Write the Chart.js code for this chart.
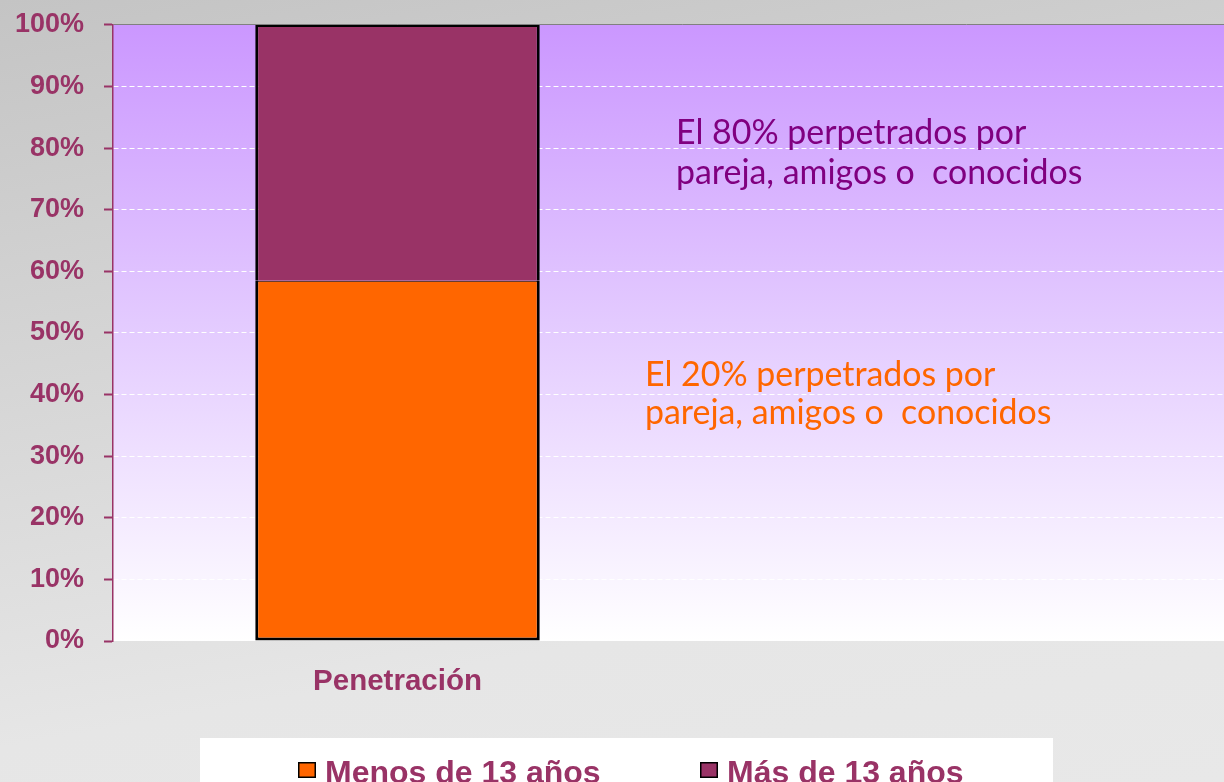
<!DOCTYPE html>
<html>
<head>
<meta charset="utf-8">
<script src="https://cdn.jsdelivr.net/npm/chart.js@4.4.0/dist/chart.umd.min.js"></script>
<style>
html, body { margin: 0; padding: 0; width: 1224px; height: 782px; overflow: hidden; }
body { background: linear-gradient(170deg, #c4c4c4 0%, #d4d4d4 35%, #e6e6e6 75%, #e8e8e8 100%); }
#wrap { position: absolute; left: 0; top: 0; width: 1260px; height: 800px; }
</style>
</head>
<body>
<div id="wrap"><canvas id="myChart" width="1260" height="800"></canvas></div>
<script>
// chart values
var categories = ['Penetración', ''];
var menos13 = [58.5, null];
var mas13 = [41.5, null];
var seriesNames = ['Menos de 13 años', 'Más de 13 años'];
var yTickLabels = ['0%', '10%', '20%', '30%', '40%', '50%', '60%', '70%', '80%', '90%', '100%'];

// text notes (y given in axis percent)
var notes = [
    { lines: ['El 80% perpetrados por', 'pareja, amigos o  conocidos'], color: '#800080', x: 676, y: [82.5, 76.0] },
    { lines: ['El 20% perpetrados por', 'pareja, amigos o  conocidos'], color: '#ff6600', x: 645, y: [43.2, 37.0] }
];

// legend layout
var legendBox = { left: 200, right: 1053, top: 738 };
var legendItemX = [298, 700];

var MAGENTA = '#993366';

var backdrop = {
    id: 'backdrop',
    beforeDraw: function (chart) {
        var ctx = chart.ctx, a = chart.chartArea;
        ctx.save();
        var g = ctx.createLinearGradient(0, a.top, 0, a.bottom);
        g.addColorStop(0, 'rgb(203,151,255)');
        g.addColorStop(0.5, 'rgb(228,204,255)');
        g.addColorStop(1, '#ffffff');
        ctx.fillStyle = g;
        ctx.fillRect(a.left, a.top, a.right - a.left, a.bottom - a.top);
        ctx.restore();
    }
};

var textNotes = {
    id: 'textNotes',
    afterDatasetsDraw: function (chart) {
        var ctx = chart.ctx, y = chart.scales.y;
        ctx.save();
        ctx.font = '28px Lato';
        var size = 28 * 351 / ctx.measureText(notes[0].lines[0]).width;
        ctx.font = size.toFixed(1) + 'px Lato';
        ctx.textAlign = 'left';
        ctx.textBaseline = 'middle';
        notes.forEach(function (n) {
            ctx.fillStyle = n.color;
            n.lines.forEach(function (t, i) {
                ctx.fillText(t, n.x, y.getPixelForValue(n.y[i]));
            });
        });
        ctx.restore();
    }
};

var bottomLegend = {
    id: 'bottomLegend',
    afterDraw: function (chart) {
        var ctx = chart.ctx;
        ctx.save();
        ctx.fillStyle = '#ffffff';
        ctx.fillRect(legendBox.left, legendBox.top, legendBox.right - legendBox.left, chart.height - legendBox.top);
        ctx.font = 'bold 32px "Liberation Sans"';
        ctx.textAlign = 'left';
        ctx.textBaseline = 'alphabetic';
        chart.data.datasets.forEach(function (ds, i) {
            var x = legendItemX[i];
            ctx.fillStyle = ds.backgroundColor;
            ctx.fillRect(x, 762, 18, 16);
            ctx.strokeStyle = '#000000';
            ctx.lineWidth = 1.5;
            ctx.strokeRect(x + 0.75, 762.75, 16.5, 14.5);
            ctx.fillStyle = MAGENTA;
            ctx.fillText(ds.label, x + 27, 783);
        });
        ctx.restore();
    }
};

var ctx = document.getElementById('myChart').getContext('2d');
var chart = new Chart(ctx, {
    type: 'bar',
    data: {
        labels: categories,
        datasets: [{
            label: seriesNames[0],
            data: menos13,
            backgroundColor: '#ff6600',
            borderColor: '#000000',
            borderWidth: { top: 1, left: 3, right: 3, bottom: 3 },
            borderSkipped: false
        }, {
            label: seriesNames[1],
            data: mas13,
            backgroundColor: MAGENTA,
            borderColor: '#000000',
            borderWidth: { top: 2, left: 3, right: 3, bottom: 0 },
            borderSkipped: false
        }]
    },
    options: {
        responsive: false,
        animation: false,
        devicePixelRatio: 1,
        layout: { padding: { top: 0, left: 0, right: 9, bottom: 3 } },
        datasets: { bar: { barPercentage: 0.5, categoryPercentage: 1 } },
        scales: {
            x: {
                stacked: true,
                grid: { display: false },
                border: { display: false },
                ticks: {
                    color: MAGENTA,
                    font: { family: 'Liberation Sans', size: 29.5, weight: 'bold' },
                    padding: 15,
                    maxRotation: 0
                },
                afterFit: function (s) { s.height = 156; }
            },
            y: {
                stacked: true,
                min: 0,
                max: 100,
                ticks: {
                    stepSize: 10,
                    color: MAGENTA,
                    padding: 20,
                    font: { family: 'Liberation Sans', size: 27, weight: 'bold', lineHeight: 0.37 },
                    callback: function (v) { return yTickLabels[Math.round(v / 10)]; }
                },
                grid: {
                    color: function (c) {
                        if (!c.tick) return '#ffffff';
                        if (c.tick.value === 100) return '#808080';
                        if (c.tick.value === 0) return 'rgba(0,0,0,0)';
                        return '#ffffff';
                    },
                    lineWidth: 1,
                    tickColor: MAGENTA,
                    tickLength: 9,
                    tickWidth: 2
                },
                border: {
                    color: MAGENTA,
                    width: 1.5,
                    dash: function (c) {
                        return (c.tick && c.tick.value > 0 && c.tick.value < 100) ? [5, 3] : [];
                    }
                },
                afterFit: function (s) { s.width = 113; }
            }
        },
        plugins: {
            tooltip: { enabled: false },
            legend: { display: false }
        }
    },
    plugins: [backdrop, textNotes, bottomLegend]
});
</script>
</body>
</html>
